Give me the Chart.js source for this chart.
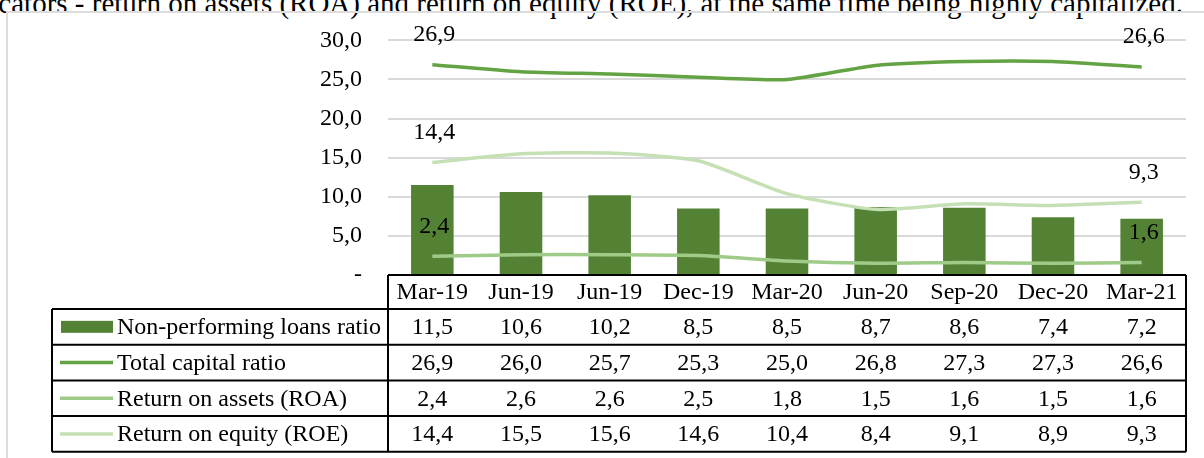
<!DOCTYPE html>
<html>
<head>
<meta charset="utf-8">
<script src="https://cdn.jsdelivr.net/npm/chart.js@4"></script>
<style>
  html, body { margin: 0; padding: 0; background: #fff; }
  body { width: 1204px; height: 458px; position: relative; overflow: hidden; }
  #frame { position: absolute; left: 6px; top: 11px; width: 1300px; height: 500px;
           border-left: 2px solid #dcdcdc; border-top: 2px solid #dcdcdc; }
  #bodytext { position: absolute; right: 21px; top: -11px; white-space: nowrap;
              font: 29px "Liberation Serif", "Times New Roman", serif; line-height: 29px; color: #000; }
  #chart { position: absolute; left: 0; top: 0; }
</style>
</head>
<body>
<div id="bodytext">indicators - return on assets (ROA) and return on equity (ROE), at the same time being highly capitalized.</div>
<div id="frame"></div>
<canvas id="chart" width="1204" height="458"></canvas>
<script>
// data
const categories = ["Mar-19", "Jun-19", "Jun-19", "Dec-19", "Mar-20", "Jun-20", "Sep-20", "Dec-20", "Mar-21"];
const nplRatio = [11.5, 10.6, 10.2, 8.5, 8.5, 8.7, 8.6, 7.4, 7.2];
const capitalRatio = [26.9, 26.0, 25.7, 25.3, 25.0, 26.8, 27.3, 27.3, 26.6];
const roaValues = [2.4, 2.6, 2.6, 2.5, 1.8, 1.5, 1.6, 1.5, 1.6];
const roeValues = [14.4, 15.5, 15.6, 14.6, 10.4, 8.4, 9.1, 8.9, 9.3];
const yTicks = [0, 5, 10, 15, 20, 25, 30];

const FONT = { family: '"Liberation Serif", "Times New Roman", serif', size: 24 };
const fmt = v => v.toFixed(1).replace(".", ",");

// first / last value labels above the lines
const endLabels = {
  id: "endLabels",
  afterDatasetsDraw(chart) {
    const ctx = chart.ctx;
    ctx.save();
    ctx.font = `${FONT.size}px ${FONT.family}`;
    ctx.fillStyle = "#000";
    ctx.textAlign = "center";
    ctx.textBaseline = "middle";
    chart.data.datasets.forEach((ds, i) => {
      if (ds.type !== "line") return;
      const pts = chart.getDatasetMeta(i).data;
      [0, pts.length - 1].forEach(k => {
        ctx.fillText(fmt(ds.data[k]), pts[k].x + 2, pts[k].y - 30);
      });
    });
    ctx.restore();
  }
};

// data table under the plot
const dataTable = {
  id: "dataTable",
  afterDraw(chart) {
    const ctx = chart.ctx;
    const area = chart.chartArea;
    const x = chart.scales.x;
    const top = area.bottom;
    const headH = 34;
    const rowH = 35.7;
    const legLeft = 52;
    const bottom = top + headH + rowH * 4;

    ctx.save();
    ctx.font = `${FONT.size}px ${FONT.family}`;
    ctx.fillStyle = "#000";
    ctx.textBaseline = "middle";

    // header
    ctx.textAlign = "center";
    categories.forEach((c, i) => ctx.fillText(c, x.getPixelForValue(i), top + headH / 2 + 1));

    // rows
    chart.data.datasets.forEach((ds, r) => {
      const yc = top + headH + rowH * r + rowH / 2 + 1;
      ctx.textAlign = "center";
      ds.data.forEach((v, i) => ctx.fillText(fmt(v), x.getPixelForValue(i), yc));
      // legend key
      if (ds.type === "bar") {
        ctx.fillStyle = ds.backgroundColor;
        ctx.fillRect(61, yc - 7, 52, 12);
      } else {
        ctx.strokeStyle = ds.borderColor;
        ctx.lineWidth = 3.5;
        ctx.beginPath();
        ctx.moveTo(60, yc - 1);
        ctx.lineTo(113, yc - 1);
        ctx.stroke();
      }
      ctx.fillStyle = "#000";
      ctx.textAlign = "left";
      ctx.fillText(ds.label, 117, yc);
    });

    // borders
    ctx.strokeStyle = "#000";
    ctx.lineWidth = 2;
    ctx.beginPath();
    ctx.moveTo(area.left, top); ctx.lineTo(area.right, top);
    for (let r = 0; r <= 4; r++) {
      const y = top + headH + rowH * r;
      ctx.moveTo(legLeft, y); ctx.lineTo(area.right, y);
    }
    ctx.moveTo(legLeft, top + headH); ctx.lineTo(legLeft, bottom);
    ctx.moveTo(area.left, top); ctx.lineTo(area.left, bottom);
    ctx.moveTo(area.right, top); ctx.lineTo(area.right, bottom);
    ctx.stroke();
    ctx.restore();
  }
};

new Chart(document.getElementById("chart"), {
  data: {
    labels: categories,
    datasets: [
      { type: "bar", label: "Non-performing loans ratio", data: nplRatio,
        backgroundColor: "#548235", categoryPercentage: 1, barPercentage: 0.48, order: 5 },
      { type: "line", label: "Total capital ratio", data: capitalRatio,
        borderColor: "#64a343", borderWidth: 3.5, pointRadius: 0, tension: 0.2, order: 1 },
      { type: "line", label: "Return on assets (ROA)", data: roaValues,
        borderColor: "#9fcb88", borderWidth: 3.5, pointRadius: 0, tension: 0.2, order: 2 },
      { type: "line", label: "Return on equity (ROE)", data: roeValues,
        borderColor: "#c5e0b4", borderWidth: 3.5, pointRadius: 0, tension: 0.2, order: 3 }
    ]
  },
  options: {
    responsive: false,
    animation: false,
    layout: { padding: { left: 288, right: 18, top: 40, bottom: 183 } },
    plugins: { legend: { display: false }, tooltip: { enabled: false } },
    scales: {
      x: { display: false, offset: true },
      y: {
        min: 0, max: 30,
        afterFit: s => { s.width = 100; },
        afterBuildTicks: s => { s.ticks = yTicks.map(v => ({ value: v })); },
        ticks: { font: FONT, color: "#000", padding: 26,
                 callback: v => (v === 0 ? "-" : fmt(v)) },
        grid: { color: "#d9d9d9", lineWidth: 2, drawTicks: false },
        border: { display: false }
      }
    }
  },
  plugins: [endLabels, dataTable]
});
</script>
</body>
</html>
